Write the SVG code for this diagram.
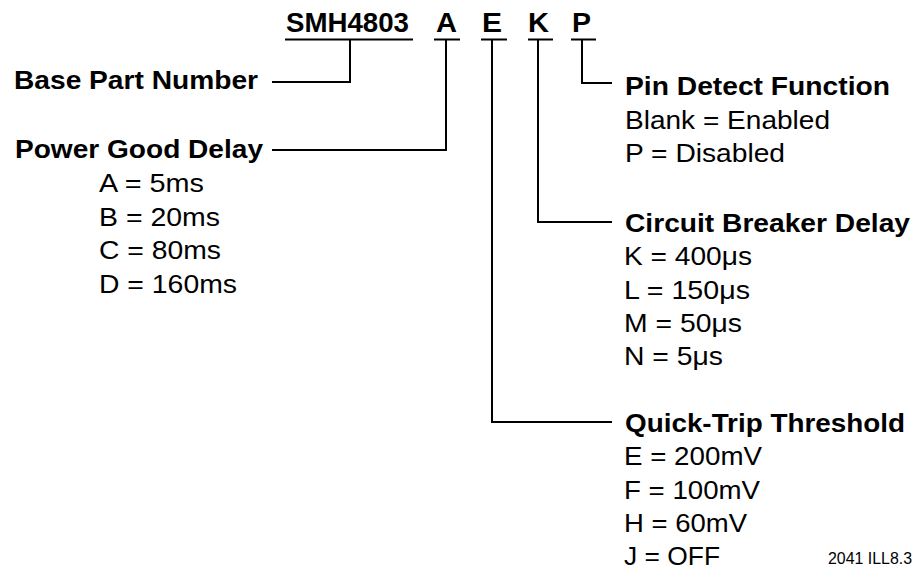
<svg xmlns="http://www.w3.org/2000/svg" width="918" height="571" viewBox="0 0 918 571">
<style>
.b{font-family:"Liberation Sans",Arial,sans-serif;font-weight:bold;font-size:25px;fill:#000}
.t{font-family:"Liberation Sans",Arial,sans-serif;font-weight:bold;font-size:27px;fill:#000}
.r{font-family:"Liberation Sans",Arial,sans-serif;font-size:25px;fill:#000}
.s{font-family:"Liberation Sans",Arial,sans-serif;font-size:16px;fill:#000}
.ln{stroke:#000;stroke-width:2;fill:none}
</style>
<rect width="918" height="571" fill="#fff"/>
<g id="part-code">
<text class="t" x="286" y="32" textLength="123" lengthAdjust="spacingAndGlyphs">SMH4803</text>
<text class="t" x="436" y="32" textLength="21" lengthAdjust="spacingAndGlyphs">A</text>
<text class="t" x="482" y="32" textLength="20" lengthAdjust="spacingAndGlyphs">E</text>
<text class="t" x="528" y="32" textLength="21" lengthAdjust="spacingAndGlyphs">K</text>
<text class="t" x="572" y="32" textLength="19" lengthAdjust="spacingAndGlyphs">P</text>
</g>
<g id="connectors" class="ln">
<path d="M285 39.5H413M434 39.5H460M481 39.5H507M528 39.5H553M571 39.5H596"/>
<path d="M350 39.5V82H272"/>
<path d="M446 39.5V150H272"/>
<path d="M492 39.5V422H612"/>
<path d="M538 39.5V222H612"/>
<path d="M582 39.5V83H612"/>
</g>
<g id="base-part-number">
<text class="b" x="14" y="89" textLength="244" lengthAdjust="spacingAndGlyphs">Base Part Number</text>
</g>
<g id="power-good-delay">
<text class="b" x="15" y="158" textLength="248" lengthAdjust="spacingAndGlyphs">Power Good Delay</text>
<text class="r" x="99" y="192" textLength="105" lengthAdjust="spacingAndGlyphs">A = 5ms</text>
<text class="r" x="99" y="225.5" textLength="121" lengthAdjust="spacingAndGlyphs">B = 20ms</text>
<text class="r" x="99" y="259" textLength="122" lengthAdjust="spacingAndGlyphs">C = 80ms</text>
<text class="r" x="99" y="292.5" textLength="138" lengthAdjust="spacingAndGlyphs">D = 160ms</text>
</g>
<g id="pin-detect-function">
<text class="b" x="625" y="95" textLength="265" lengthAdjust="spacingAndGlyphs">Pin Detect Function</text>
<text class="r" x="625" y="128.5" textLength="205" lengthAdjust="spacingAndGlyphs">Blank = Enabled</text>
<text class="r" x="625" y="161.5" textLength="160" lengthAdjust="spacingAndGlyphs">P = Disabled</text>
</g>
<g id="circuit-breaker-delay">
<text class="b" x="625" y="232" textLength="285" lengthAdjust="spacingAndGlyphs">Circuit Breaker Delay</text>
<text class="r" x="624" y="265" textLength="128" lengthAdjust="spacingAndGlyphs">K = 400μs</text>
<text class="r" x="624" y="298.5" textLength="126" lengthAdjust="spacingAndGlyphs">L = 150μs</text>
<text class="r" x="624" y="332" textLength="118" lengthAdjust="spacingAndGlyphs">M = 50μs</text>
<text class="r" x="624" y="365" textLength="99" lengthAdjust="spacingAndGlyphs">N = 5μs</text>
</g>
<g id="quick-trip-threshold">
<text class="b" x="625" y="432" textLength="280" lengthAdjust="spacingAndGlyphs">Quick-Trip Threshold</text>
<text class="r" x="624" y="465" textLength="138" lengthAdjust="spacingAndGlyphs">E = 200mV</text>
<text class="r" x="624" y="498.5" textLength="136" lengthAdjust="spacingAndGlyphs">F = 100mV</text>
<text class="r" x="624" y="532" textLength="123" lengthAdjust="spacingAndGlyphs">H = 60mV</text>
<text class="r" x="624" y="565" textLength="96" lengthAdjust="spacingAndGlyphs">J = OFF</text>
</g>
<g id="figure-label">
<text class="s" x="828" y="564" textLength="84" lengthAdjust="spacingAndGlyphs">2041 ILL8.3</text>
</g>
</svg>
